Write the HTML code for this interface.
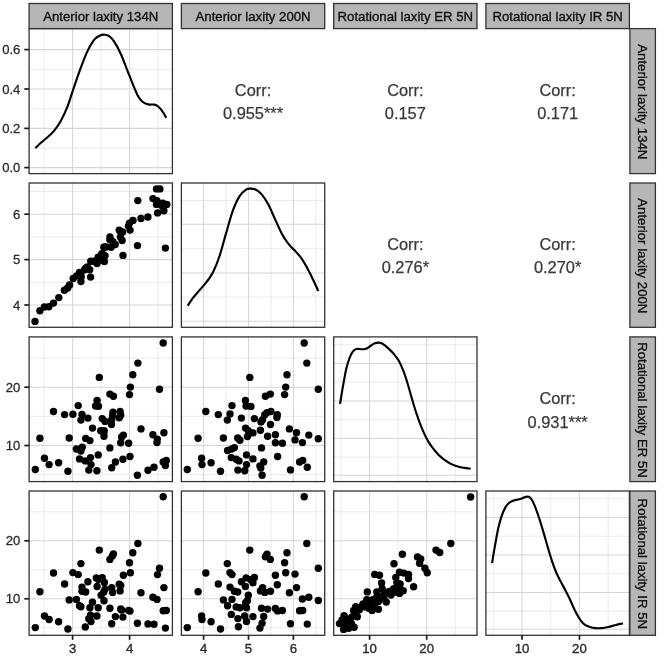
<!DOCTYPE html>
<html><head><meta charset="utf-8"><title>Pairs plot</title>
<style>
html,body{margin:0;padding:0;background:#fff;}
body{width:666px;height:663px;overflow:hidden;font-family:"Liberation Sans",sans-serif;}
svg{display:block;will-change:transform;font-family:"Liberation Sans",sans-serif;}
</style></head><body>
<svg width="666" height="663" viewBox="0 0 666 663">
<rect x="0" y="0" width="666" height="663" fill="#ffffff"/>
<clipPath id="cp00"><rect x="29.10" y="28.60" width="143.30" height="145.00"/></clipPath>
<g clip-path="url(#cp00)">
<line x1="29.10" x2="172.40" y1="69.30" y2="69.30" stroke="#e2e2e2" stroke-width="0.7"/>
<line x1="29.10" x2="172.40" y1="108.70" y2="108.70" stroke="#e2e2e2" stroke-width="0.7"/>
<line x1="29.10" x2="172.40" y1="148.00" y2="148.00" stroke="#e2e2e2" stroke-width="0.7"/>
<line x1="44.10" x2="44.10" y1="28.60" y2="173.60" stroke="#e2e2e2" stroke-width="0.7"/>
<line x1="101.10" x2="101.10" y1="28.60" y2="173.60" stroke="#e2e2e2" stroke-width="0.7"/>
<line x1="158.10" x2="158.10" y1="28.60" y2="173.60" stroke="#e2e2e2" stroke-width="0.7"/>
<line x1="29.10" x2="172.40" y1="49.60" y2="49.60" stroke="#d6d6d6" stroke-width="1.05"/>
<line x1="29.10" x2="172.40" y1="89.00" y2="89.00" stroke="#d6d6d6" stroke-width="1.05"/>
<line x1="29.10" x2="172.40" y1="128.40" y2="128.40" stroke="#d6d6d6" stroke-width="1.05"/>
<line x1="29.10" x2="172.40" y1="167.60" y2="167.60" stroke="#d6d6d6" stroke-width="1.05"/>
<line x1="72.60" x2="72.60" y1="28.60" y2="173.60" stroke="#d6d6d6" stroke-width="1.05"/>
<line x1="129.60" x2="129.60" y1="28.60" y2="173.60" stroke="#d6d6d6" stroke-width="1.05"/>
<path d="M35.27 148.24 C36.26 147.28 39.12 144.38 41.21 142.51 C43.30 140.64 45.62 139.03 47.82 137.01 C50.02 134.99 52.22 133.15 54.43 130.40 C56.63 127.65 58.83 124.53 61.03 120.49 C63.23 116.45 65.44 111.87 67.64 106.18 C69.84 100.49 72.04 92.78 74.25 86.36 C76.45 79.93 78.65 73.51 80.85 67.64 C83.05 61.77 85.26 55.75 87.46 51.12 C89.66 46.50 92.12 42.42 94.06 39.89 C96.01 37.36 97.48 36.81 99.13 35.93 C100.78 35.05 102.36 34.61 103.97 34.61 C105.59 34.61 107.17 34.83 108.82 35.93 C110.47 37.03 111.94 38.31 113.88 41.21 C115.83 44.11 118.29 48.55 120.49 53.32 C122.69 58.10 124.89 64.34 127.10 69.84 C129.30 75.35 131.87 81.95 133.70 86.36 C135.54 90.76 136.64 93.70 138.11 96.27 C139.58 98.84 140.86 100.41 142.51 101.77 C144.16 103.13 146.00 103.94 148.02 104.41 C150.04 104.89 152.79 104.16 154.62 104.64 C156.46 105.11 157.56 105.92 159.03 107.28 C160.50 108.64 162.22 111.02 163.43 112.78 C164.64 114.54 165.82 117.00 166.30 117.85" fill="none" stroke="#000" stroke-width="2.15" stroke-linejoin="round"/>
</g>
<rect x="29.10" y="28.60" width="143.30" height="145.00" fill="none" stroke="#333333" stroke-width="1.3"/>
<clipPath id="cp11"><rect x="181.40" y="183.00" width="143.30" height="144.30"/></clipPath>
<g clip-path="url(#cp11)">
<line x1="181.40" x2="324.70" y1="297.00" y2="297.00" stroke="#e2e2e2" stroke-width="0.7"/>
<line x1="181.40" x2="324.70" y1="248.70" y2="248.70" stroke="#e2e2e2" stroke-width="0.7"/>
<line x1="181.40" x2="324.70" y1="200.50" y2="200.50" stroke="#e2e2e2" stroke-width="0.7"/>
<line x1="226.05" x2="226.05" y1="183.00" y2="327.30" stroke="#e2e2e2" stroke-width="0.7"/>
<line x1="270.95" x2="270.95" y1="183.00" y2="327.30" stroke="#e2e2e2" stroke-width="0.7"/>
<line x1="315.85" x2="315.85" y1="183.00" y2="327.30" stroke="#e2e2e2" stroke-width="0.7"/>
<line x1="181.40" x2="324.70" y1="321.20" y2="321.20" stroke="#d6d6d6" stroke-width="1.05"/>
<line x1="181.40" x2="324.70" y1="273.00" y2="273.00" stroke="#d6d6d6" stroke-width="1.05"/>
<line x1="181.40" x2="324.70" y1="224.30" y2="224.30" stroke="#d6d6d6" stroke-width="1.05"/>
<line x1="203.60" x2="203.60" y1="183.00" y2="327.30" stroke="#d6d6d6" stroke-width="1.05"/>
<line x1="248.50" x2="248.50" y1="183.00" y2="327.30" stroke="#d6d6d6" stroke-width="1.05"/>
<line x1="293.40" x2="293.40" y1="183.00" y2="327.30" stroke="#d6d6d6" stroke-width="1.05"/>
<path d="M187.71 305.76 C188.63 304.40 191.19 300.26 193.21 297.61 C195.23 294.97 197.62 292.47 199.82 289.91 C202.02 287.34 204.22 285.13 206.43 282.20 C208.63 279.26 210.83 276.69 213.03 272.29 C215.23 267.88 217.44 262.38 219.64 255.77 C221.84 249.17 224.04 240.17 226.25 232.65 C228.45 225.13 230.65 216.68 232.85 210.63 C235.05 204.57 237.26 199.80 239.46 196.31 C241.66 192.83 244.23 190.99 246.06 189.71 C247.90 188.42 248.82 188.61 250.47 188.61 C252.12 188.61 254.14 188.79 255.97 189.71 C257.81 190.63 259.46 191.73 261.48 194.11 C263.50 196.50 265.88 199.98 268.09 204.02 C270.29 208.06 272.49 213.56 274.69 218.34 C276.89 223.11 279.10 228.50 281.30 232.65 C283.50 236.80 285.70 240.28 287.91 243.22 C290.11 246.16 292.31 247.81 294.51 250.27 C296.71 252.73 298.92 254.85 301.12 257.97 C303.32 261.09 305.71 265.31 307.73 268.99 C309.74 272.66 311.47 276.33 313.23 280.00 C314.99 283.67 317.45 289.17 318.30 291.01" fill="none" stroke="#000" stroke-width="2.15" stroke-linejoin="round"/>
</g>
<rect x="181.40" y="183.00" width="143.30" height="144.30" fill="none" stroke="#333333" stroke-width="1.3"/>
<clipPath id="cp22"><rect x="333.70" y="336.90" width="143.30" height="144.70"/></clipPath>
<g clip-path="url(#cp22)">
<line x1="333.70" x2="477.00" y1="457.12" y2="457.12" stroke="#e2e2e2" stroke-width="0.7"/>
<line x1="333.70" x2="477.00" y1="419.68" y2="419.68" stroke="#e2e2e2" stroke-width="0.7"/>
<line x1="333.70" x2="477.00" y1="382.25" y2="382.25" stroke="#e2e2e2" stroke-width="0.7"/>
<line x1="333.70" x2="477.00" y1="344.81" y2="344.81" stroke="#e2e2e2" stroke-width="0.7"/>
<line x1="341.05" x2="341.05" y1="336.90" y2="481.60" stroke="#e2e2e2" stroke-width="0.7"/>
<line x1="398.15" x2="398.15" y1="336.90" y2="481.60" stroke="#e2e2e2" stroke-width="0.7"/>
<line x1="455.25" x2="455.25" y1="336.90" y2="481.60" stroke="#e2e2e2" stroke-width="0.7"/>
<line x1="333.70" x2="477.00" y1="475.18" y2="475.18" stroke="#d6d6d6" stroke-width="1.05"/>
<line x1="333.70" x2="477.00" y1="438.40" y2="438.40" stroke="#d6d6d6" stroke-width="1.05"/>
<line x1="333.70" x2="477.00" y1="400.96" y2="400.96" stroke="#d6d6d6" stroke-width="1.05"/>
<line x1="333.70" x2="477.00" y1="363.53" y2="363.53" stroke="#d6d6d6" stroke-width="1.05"/>
<line x1="369.60" x2="369.60" y1="336.90" y2="481.60" stroke="#d6d6d6" stroke-width="1.05"/>
<line x1="426.70" x2="426.70" y1="336.90" y2="481.60" stroke="#d6d6d6" stroke-width="1.05"/>
<path d="M340.05 403.83 C340.52 400.96 341.88 392.45 342.91 386.65 C343.94 380.85 345.11 373.80 346.21 369.03 C347.31 364.26 348.34 361.03 349.52 358.02 C350.69 355.01 351.98 352.52 353.26 350.97 C354.54 349.43 355.83 349.07 357.22 348.77 C358.62 348.48 360.16 349.21 361.63 349.21 C363.10 349.21 364.56 349.32 366.03 348.77 C367.50 348.22 368.97 346.83 370.44 345.91 C371.90 344.99 373.45 343.82 374.84 343.27 C376.24 342.72 377.52 342.53 378.80 342.61 C380.09 342.68 381.01 342.79 382.55 343.71 C384.09 344.63 386.22 346.46 388.05 348.11 C389.89 349.76 391.72 351.42 393.56 353.62 C395.39 355.82 397.41 358.39 399.06 361.32 C400.72 364.26 402.00 367.38 403.47 371.23 C404.94 375.09 406.41 379.68 407.87 384.45 C409.34 389.22 410.81 394.91 412.28 399.86 C413.75 404.82 415.21 409.77 416.68 414.18 C418.15 418.58 419.43 422.25 421.09 426.29 C422.74 430.33 424.76 434.91 426.59 438.40 C428.43 441.89 430.08 444.46 432.10 447.21 C434.12 449.96 436.50 452.71 438.70 454.92 C440.91 457.12 443.11 458.84 445.31 460.42 C447.51 462.00 449.53 463.28 451.92 464.39 C454.30 465.49 457.24 466.40 459.62 467.03 C462.01 467.65 464.40 467.84 466.23 468.13 C468.07 468.42 469.90 468.68 470.63 468.79" fill="none" stroke="#000" stroke-width="2.15" stroke-linejoin="round"/>
</g>
<rect x="333.70" y="336.90" width="143.30" height="144.70" fill="none" stroke="#333333" stroke-width="1.3"/>
<clipPath id="cp33"><rect x="485.90" y="491.00" width="143.50" height="144.30"/></clipPath>
<g clip-path="url(#cp33)">
<line x1="485.90" x2="629.40" y1="611.12" y2="611.12" stroke="#e2e2e2" stroke-width="0.7"/>
<line x1="485.90" x2="629.40" y1="573.68" y2="573.68" stroke="#e2e2e2" stroke-width="0.7"/>
<line x1="485.90" x2="629.40" y1="536.25" y2="536.25" stroke="#e2e2e2" stroke-width="0.7"/>
<line x1="485.90" x2="629.40" y1="498.81" y2="498.81" stroke="#e2e2e2" stroke-width="0.7"/>
<line x1="493.27" x2="493.27" y1="491.00" y2="635.30" stroke="#e2e2e2" stroke-width="0.7"/>
<line x1="550.73" x2="550.73" y1="491.00" y2="635.30" stroke="#e2e2e2" stroke-width="0.7"/>
<line x1="608.17" x2="608.17" y1="491.00" y2="635.30" stroke="#e2e2e2" stroke-width="0.7"/>
<line x1="485.90" x2="629.40" y1="629.18" y2="629.18" stroke="#d6d6d6" stroke-width="1.05"/>
<line x1="485.90" x2="629.40" y1="592.40" y2="592.40" stroke="#d6d6d6" stroke-width="1.05"/>
<line x1="485.90" x2="629.40" y1="554.96" y2="554.96" stroke="#d6d6d6" stroke-width="1.05"/>
<line x1="485.90" x2="629.40" y1="517.53" y2="517.53" stroke="#d6d6d6" stroke-width="1.05"/>
<line x1="522.00" x2="522.00" y1="491.00" y2="635.30" stroke="#d6d6d6" stroke-width="1.05"/>
<line x1="579.45" x2="579.45" y1="491.00" y2="635.30" stroke="#d6d6d6" stroke-width="1.05"/>
<path d="M492.05 563.11 C492.52 560.29 493.88 551.92 494.91 546.16 C495.94 540.39 497.11 533.49 498.21 528.54 C499.31 523.58 500.34 519.91 501.52 516.43 C502.69 512.94 503.98 509.89 505.26 507.62 C506.54 505.34 507.83 503.95 509.22 502.77 C510.62 501.60 512.16 501.12 513.63 500.57 C515.10 500.02 516.56 499.87 518.03 499.47 C519.50 499.07 521.12 498.59 522.44 498.15 C523.76 497.71 524.93 497.05 525.96 496.83 C526.99 496.61 527.69 496.42 528.60 496.83 C529.52 497.23 530.47 497.82 531.47 499.25 C532.46 500.68 533.30 502.37 534.55 505.42 C535.80 508.46 537.48 513.12 538.95 517.53 C540.42 521.93 541.89 526.89 543.36 531.84 C544.83 536.80 546.29 542.30 547.76 547.26 C549.23 552.21 550.70 557.24 552.17 561.57 C553.63 565.90 555.10 569.83 556.57 573.24 C558.04 576.65 559.51 579.22 560.97 582.05 C562.44 584.88 563.91 587.37 565.38 590.20 C566.85 593.02 568.31 595.89 569.78 599.01 C571.25 602.13 572.72 605.87 574.19 608.92 C575.66 611.96 577.12 614.90 578.59 617.28 C580.06 619.67 581.34 621.69 583.00 623.23 C584.65 624.77 586.48 625.73 588.50 626.53 C590.52 627.34 592.91 627.82 595.11 628.08 C597.31 628.33 599.51 628.26 601.71 628.08 C603.92 627.89 606.12 627.45 608.32 626.97 C610.52 626.50 612.91 625.73 614.93 625.21 C616.95 624.70 619.07 624.18 620.43 623.89 C621.79 623.60 622.63 623.52 623.08 623.45" fill="none" stroke="#000" stroke-width="2.15" stroke-linejoin="round"/>
</g>
<rect x="485.90" y="491.00" width="143.50" height="144.30" fill="none" stroke="#333333" stroke-width="1.3"/>
<clipPath id="cp10"><rect x="29.10" y="183.00" width="143.30" height="144.30"/></clipPath>
<g clip-path="url(#cp10)">
<line x1="29.10" x2="172.40" y1="282.30" y2="282.30" stroke="#e2e2e2" stroke-width="0.7"/>
<line x1="29.10" x2="172.40" y1="236.90" y2="236.90" stroke="#e2e2e2" stroke-width="0.7"/>
<line x1="29.10" x2="172.40" y1="191.50" y2="191.50" stroke="#e2e2e2" stroke-width="0.7"/>
<line x1="44.10" x2="44.10" y1="183.00" y2="327.30" stroke="#e2e2e2" stroke-width="0.7"/>
<line x1="101.10" x2="101.10" y1="183.00" y2="327.30" stroke="#e2e2e2" stroke-width="0.7"/>
<line x1="158.10" x2="158.10" y1="183.00" y2="327.30" stroke="#e2e2e2" stroke-width="0.7"/>
<line x1="29.10" x2="172.40" y1="305.00" y2="305.00" stroke="#d6d6d6" stroke-width="1.05"/>
<line x1="29.10" x2="172.40" y1="259.60" y2="259.60" stroke="#d6d6d6" stroke-width="1.05"/>
<line x1="29.10" x2="172.40" y1="214.20" y2="214.20" stroke="#d6d6d6" stroke-width="1.05"/>
<line x1="72.60" x2="72.60" y1="183.00" y2="327.30" stroke="#d6d6d6" stroke-width="1.05"/>
<line x1="129.60" x2="129.60" y1="183.00" y2="327.30" stroke="#d6d6d6" stroke-width="1.05"/>
<g fill="#000"><circle cx="35.0" cy="321.4" r="3.70"/><circle cx="39.9" cy="310.7" r="3.70"/><circle cx="44.4" cy="307.0" r="3.70"/><circle cx="48.9" cy="306.8" r="3.70"/><circle cx="53.5" cy="303.1" r="3.70"/><circle cx="58.8" cy="297.6" r="3.70"/><circle cx="64.4" cy="290.3" r="3.70"/><circle cx="67.6" cy="288.0" r="3.70"/><circle cx="69.6" cy="285.0" r="3.70"/><circle cx="73.2" cy="278.5" r="3.70"/><circle cx="76.6" cy="275.9" r="3.70"/><circle cx="79.5" cy="272.5" r="3.70"/><circle cx="81.2" cy="277.1" r="3.70"/><circle cx="80.9" cy="281.6" r="3.70"/><circle cx="84.6" cy="269.7" r="3.70"/><circle cx="87.4" cy="266.9" r="3.70"/><circle cx="89.7" cy="269.7" r="3.70"/><circle cx="90.6" cy="277.1" r="3.70"/><circle cx="90.8" cy="261.2" r="3.70"/><circle cx="97.0" cy="263.5" r="3.70"/><circle cx="98.1" cy="257.3" r="3.70"/><circle cx="101.5" cy="260.1" r="3.70"/><circle cx="156.5" cy="188.9" r="3.70"/><circle cx="159.9" cy="188.9" r="3.70"/><circle cx="137.8" cy="200.6" r="3.70"/><circle cx="153.0" cy="198.6" r="3.70"/><circle cx="156.5" cy="204.4" r="3.70"/><circle cx="162.8" cy="203.2" r="3.70"/><circle cx="166.8" cy="204.4" r="3.70"/><circle cx="157.6" cy="212.9" r="3.70"/><circle cx="163.9" cy="210.7" r="3.70"/><circle cx="147.9" cy="217.0" r="3.70"/><circle cx="141.0" cy="218.5" r="3.70"/><circle cx="133.0" cy="220.4" r="3.70"/><circle cx="129.5" cy="223.3" r="3.70"/><circle cx="128.4" cy="226.1" r="3.70"/><circle cx="130.1" cy="230.1" r="3.70"/><circle cx="119.2" cy="230.1" r="3.70"/><circle cx="122.6" cy="231.9" r="3.70"/><circle cx="120.4" cy="237.0" r="3.70"/><circle cx="122.1" cy="240.5" r="3.70"/><circle cx="110.0" cy="237.0" r="3.70"/><circle cx="112.9" cy="241.6" r="3.70"/><circle cx="115.2" cy="244.5" r="3.70"/><circle cx="111.2" cy="247.3" r="3.70"/><circle cx="104.3" cy="247.3" r="3.70"/><circle cx="102.6" cy="254.2" r="3.70"/><circle cx="137.5" cy="245.6" r="3.70"/><circle cx="165.4" cy="248.1" r="3.70"/><circle cx="123.0" cy="255.4" r="3.70"/><circle cx="104.4" cy="261.6" r="3.70"/><circle cx="101.8" cy="253.7" r="3.70"/><circle cx="105.0" cy="255.8" r="3.70"/><circle cx="103.9" cy="247.3" r="3.70"/><circle cx="106.2" cy="247.0" r="3.70"/><circle cx="109.9" cy="239.7" r="3.70"/><circle cx="85.7" cy="268.3" r="3.70"/><circle cx="94.1" cy="261.3" r="3.70"/><circle cx="80.9" cy="273.4" r="3.70"/><circle cx="120.5" cy="231.5" r="3.70"/><circle cx="157.0" cy="200.7" r="3.70"/><circle cx="162.3" cy="206.2" r="3.70"/></g>
</g>
<rect x="29.10" y="183.00" width="143.30" height="144.30" fill="none" stroke="#333333" stroke-width="1.3"/>
<clipPath id="cp20"><rect x="29.10" y="336.90" width="143.30" height="144.70"/></clipPath>
<g clip-path="url(#cp20)">
<line x1="29.10" x2="172.40" y1="474.65" y2="474.65" stroke="#e2e2e2" stroke-width="0.7"/>
<line x1="29.10" x2="172.40" y1="416.35" y2="416.35" stroke="#e2e2e2" stroke-width="0.7"/>
<line x1="29.10" x2="172.40" y1="358.05" y2="358.05" stroke="#e2e2e2" stroke-width="0.7"/>
<line x1="44.10" x2="44.10" y1="336.90" y2="481.60" stroke="#e2e2e2" stroke-width="0.7"/>
<line x1="101.10" x2="101.10" y1="336.90" y2="481.60" stroke="#e2e2e2" stroke-width="0.7"/>
<line x1="158.10" x2="158.10" y1="336.90" y2="481.60" stroke="#e2e2e2" stroke-width="0.7"/>
<line x1="29.10" x2="172.40" y1="445.50" y2="445.50" stroke="#d6d6d6" stroke-width="1.05"/>
<line x1="29.10" x2="172.40" y1="387.20" y2="387.20" stroke="#d6d6d6" stroke-width="1.05"/>
<line x1="72.60" x2="72.60" y1="336.90" y2="481.60" stroke="#d6d6d6" stroke-width="1.05"/>
<line x1="129.60" x2="129.60" y1="336.90" y2="481.60" stroke="#d6d6d6" stroke-width="1.05"/>
<g fill="#000"><circle cx="163.2" cy="343.0" r="3.70"/><circle cx="137.9" cy="363.1" r="3.70"/><circle cx="132.8" cy="374.8" r="3.70"/><circle cx="99.3" cy="377.4" r="3.70"/><circle cx="130.4" cy="387.1" r="3.70"/><circle cx="159.5" cy="389.3" r="3.70"/><circle cx="129.5" cy="394.6" r="3.70"/><circle cx="109.9" cy="394.1" r="3.70"/><circle cx="113.4" cy="396.3" r="3.70"/><circle cx="97.1" cy="400.5" r="3.70"/><circle cx="78.2" cy="405.6" r="3.70"/><circle cx="95.6" cy="406.0" r="3.70"/><circle cx="98.5" cy="406.2" r="3.70"/><circle cx="53.5" cy="411.5" r="3.70"/><circle cx="64.6" cy="414.6" r="3.70"/><circle cx="72.9" cy="414.2" r="3.70"/><circle cx="82.0" cy="414.4" r="3.70"/><circle cx="113.0" cy="412.2" r="3.70"/><circle cx="120.1" cy="411.5" r="3.70"/><circle cx="120.7" cy="415.3" r="3.70"/><circle cx="119.2" cy="417.7" r="3.70"/><circle cx="112.6" cy="415.7" r="3.70"/><circle cx="87.9" cy="418.1" r="3.70"/><circle cx="80.9" cy="420.1" r="3.70"/><circle cx="102.2" cy="418.6" r="3.70"/><circle cx="105.1" cy="421.4" r="3.70"/><circle cx="111.7" cy="419.7" r="3.70"/><circle cx="111.5" cy="424.5" r="3.70"/><circle cx="92.5" cy="428.1" r="3.70"/><circle cx="100.7" cy="430.7" r="3.70"/><circle cx="104.2" cy="430.7" r="3.70"/><circle cx="103.8" cy="432.9" r="3.70"/><circle cx="104.0" cy="436.2" r="3.70"/><circle cx="141.0" cy="428.9" r="3.70"/><circle cx="163.9" cy="432.7" r="3.70"/><circle cx="152.9" cy="434.7" r="3.70"/><circle cx="123.4" cy="435.1" r="3.70"/><circle cx="121.6" cy="436.9" r="3.70"/><circle cx="39.9" cy="438.2" r="3.70"/><circle cx="69.2" cy="438.0" r="3.70"/><circle cx="85.7" cy="438.4" r="3.70"/><circle cx="89.9" cy="440.6" r="3.70"/><circle cx="157.3" cy="439.1" r="3.70"/><circle cx="157.0" cy="442.6" r="3.70"/><circle cx="120.7" cy="442.8" r="3.70"/><circle cx="128.6" cy="443.2" r="3.70"/><circle cx="109.9" cy="447.9" r="3.70"/><circle cx="82.2" cy="447.2" r="3.70"/><circle cx="76.4" cy="449.0" r="3.70"/><circle cx="80.9" cy="451.0" r="3.70"/><circle cx="98.2" cy="454.9" r="3.70"/><circle cx="130.0" cy="456.5" r="3.70"/><circle cx="44.5" cy="458.2" r="3.70"/><circle cx="90.5" cy="457.6" r="3.70"/><circle cx="79.5" cy="458.9" r="3.70"/><circle cx="85.3" cy="460.9" r="3.70"/><circle cx="122.9" cy="459.3" r="3.70"/><circle cx="115.4" cy="462.0" r="3.70"/><circle cx="166.3" cy="460.4" r="3.70"/><circle cx="163.2" cy="462.0" r="3.70"/><circle cx="165.4" cy="465.5" r="3.70"/><circle cx="58.6" cy="462.8" r="3.70"/><circle cx="49.1" cy="464.6" r="3.70"/><circle cx="91.0" cy="464.6" r="3.70"/><circle cx="111.7" cy="467.7" r="3.70"/><circle cx="154.0" cy="467.2" r="3.70"/><circle cx="35.3" cy="469.5" r="3.70"/><circle cx="148.0" cy="470.3" r="3.70"/><circle cx="67.9" cy="471.2" r="3.70"/><circle cx="88.8" cy="470.1" r="3.70"/><circle cx="96.9" cy="470.8" r="3.70"/><circle cx="137.4" cy="475.2" r="3.70"/></g>
</g>
<rect x="29.10" y="336.90" width="143.30" height="144.70" fill="none" stroke="#333333" stroke-width="1.3"/>
<clipPath id="cp21"><rect x="181.40" y="336.90" width="143.30" height="144.70"/></clipPath>
<g clip-path="url(#cp21)">
<line x1="181.40" x2="324.70" y1="474.65" y2="474.65" stroke="#e2e2e2" stroke-width="0.7"/>
<line x1="181.40" x2="324.70" y1="416.35" y2="416.35" stroke="#e2e2e2" stroke-width="0.7"/>
<line x1="181.40" x2="324.70" y1="358.05" y2="358.05" stroke="#e2e2e2" stroke-width="0.7"/>
<line x1="226.05" x2="226.05" y1="336.90" y2="481.60" stroke="#e2e2e2" stroke-width="0.7"/>
<line x1="270.95" x2="270.95" y1="336.90" y2="481.60" stroke="#e2e2e2" stroke-width="0.7"/>
<line x1="315.85" x2="315.85" y1="336.90" y2="481.60" stroke="#e2e2e2" stroke-width="0.7"/>
<line x1="181.40" x2="324.70" y1="445.50" y2="445.50" stroke="#d6d6d6" stroke-width="1.05"/>
<line x1="181.40" x2="324.70" y1="387.20" y2="387.20" stroke="#d6d6d6" stroke-width="1.05"/>
<line x1="203.60" x2="203.60" y1="336.90" y2="481.60" stroke="#d6d6d6" stroke-width="1.05"/>
<line x1="248.50" x2="248.50" y1="336.90" y2="481.60" stroke="#d6d6d6" stroke-width="1.05"/>
<line x1="293.40" x2="293.40" y1="336.90" y2="481.60" stroke="#d6d6d6" stroke-width="1.05"/>
<g fill="#000"><circle cx="304.2" cy="343.0" r="3.70"/><circle cx="306.8" cy="363.1" r="3.70"/><circle cx="287.0" cy="374.8" r="3.70"/><circle cx="249.8" cy="377.4" r="3.70"/><circle cx="285.7" cy="387.1" r="3.70"/><circle cx="318.3" cy="389.3" r="3.70"/><circle cx="284.6" cy="394.6" r="3.70"/><circle cx="270.3" cy="394.1" r="3.70"/><circle cx="265.4" cy="396.3" r="3.70"/><circle cx="245.4" cy="400.5" r="3.70"/><circle cx="232.0" cy="405.6" r="3.70"/><circle cx="246.1" cy="406.0" r="3.70"/><circle cx="250.9" cy="406.5" r="3.70"/><circle cx="205.8" cy="411.5" r="3.70"/><circle cx="270.9" cy="411.5" r="3.70"/><circle cx="267.0" cy="412.6" r="3.70"/><circle cx="218.3" cy="414.6" r="3.70"/><circle cx="230.0" cy="414.0" r="3.70"/><circle cx="264.8" cy="414.8" r="3.70"/><circle cx="277.3" cy="414.8" r="3.70"/><circle cx="276.9" cy="417.5" r="3.70"/><circle cx="241.4" cy="418.1" r="3.70"/><circle cx="254.4" cy="418.6" r="3.70"/><circle cx="227.3" cy="420.1" r="3.70"/><circle cx="262.6" cy="419.7" r="3.70"/><circle cx="261.0" cy="421.9" r="3.70"/><circle cx="270.5" cy="424.5" r="3.70"/><circle cx="245.6" cy="428.1" r="3.70"/><circle cx="289.4" cy="428.9" r="3.70"/><circle cx="260.4" cy="430.3" r="3.70"/><circle cx="248.3" cy="430.7" r="3.70"/><circle cx="252.9" cy="432.9" r="3.70"/><circle cx="296.5" cy="432.7" r="3.70"/><circle cx="308.8" cy="435.1" r="3.70"/><circle cx="275.4" cy="434.7" r="3.70"/><circle cx="267.6" cy="436.2" r="3.70"/><circle cx="247.4" cy="436.6" r="3.70"/><circle cx="198.1" cy="438.2" r="3.70"/><circle cx="223.4" cy="438.0" r="3.70"/><circle cx="237.7" cy="438.0" r="3.70"/><circle cx="239.9" cy="440.2" r="3.70"/><circle cx="318.3" cy="438.8" r="3.70"/><circle cx="295.0" cy="439.9" r="3.70"/><circle cx="275.4" cy="442.8" r="3.70"/><circle cx="282.4" cy="443.2" r="3.70"/><circle cx="302.4" cy="442.6" r="3.70"/><circle cx="261.5" cy="447.9" r="3.70"/><circle cx="234.4" cy="447.6" r="3.70"/><circle cx="231.8" cy="449.0" r="3.70"/><circle cx="227.6" cy="450.5" r="3.70"/><circle cx="246.5" cy="454.9" r="3.70"/><circle cx="277.6" cy="456.5" r="3.70"/><circle cx="201.6" cy="458.2" r="3.70"/><circle cx="231.3" cy="457.6" r="3.70"/><circle cx="252.9" cy="458.9" r="3.70"/><circle cx="236.2" cy="459.3" r="3.70"/><circle cx="239.0" cy="460.9" r="3.70"/><circle cx="302.7" cy="460.4" r="3.70"/><circle cx="299.6" cy="462.0" r="3.70"/><circle cx="263.7" cy="462.0" r="3.70"/><circle cx="211.1" cy="462.8" r="3.70"/><circle cx="202.0" cy="464.6" r="3.70"/><circle cx="246.5" cy="464.6" r="3.70"/><circle cx="259.9" cy="465.9" r="3.70"/><circle cx="307.3" cy="467.2" r="3.70"/><circle cx="260.8" cy="468.1" r="3.70"/><circle cx="187.3" cy="469.5" r="3.70"/><circle cx="290.5" cy="469.9" r="3.70"/><circle cx="220.5" cy="471.2" r="3.70"/><circle cx="237.9" cy="470.1" r="3.70"/><circle cx="244.7" cy="470.8" r="3.70"/><circle cx="262.1" cy="475.2" r="3.70"/></g>
</g>
<rect x="181.40" y="336.90" width="143.30" height="144.70" fill="none" stroke="#333333" stroke-width="1.3"/>
<clipPath id="cp30"><rect x="29.10" y="491.00" width="143.30" height="144.30"/></clipPath>
<g clip-path="url(#cp30)">
<line x1="29.10" x2="172.40" y1="627.80" y2="627.80" stroke="#e2e2e2" stroke-width="0.7"/>
<line x1="29.10" x2="172.40" y1="569.80" y2="569.80" stroke="#e2e2e2" stroke-width="0.7"/>
<line x1="29.10" x2="172.40" y1="511.80" y2="511.80" stroke="#e2e2e2" stroke-width="0.7"/>
<line x1="44.10" x2="44.10" y1="491.00" y2="635.30" stroke="#e2e2e2" stroke-width="0.7"/>
<line x1="101.10" x2="101.10" y1="491.00" y2="635.30" stroke="#e2e2e2" stroke-width="0.7"/>
<line x1="158.10" x2="158.10" y1="491.00" y2="635.30" stroke="#e2e2e2" stroke-width="0.7"/>
<line x1="29.10" x2="172.40" y1="598.80" y2="598.80" stroke="#d6d6d6" stroke-width="1.05"/>
<line x1="29.10" x2="172.40" y1="540.80" y2="540.80" stroke="#d6d6d6" stroke-width="1.05"/>
<line x1="72.60" x2="72.60" y1="491.00" y2="635.30" stroke="#d6d6d6" stroke-width="1.05"/>
<line x1="129.60" x2="129.60" y1="491.00" y2="635.30" stroke="#d6d6d6" stroke-width="1.05"/>
<g fill="#000"><circle cx="163.2" cy="496.8" r="3.70"/><circle cx="137.9" cy="543.5" r="3.70"/><circle cx="99.3" cy="550.1" r="3.70"/><circle cx="132.8" cy="552.8" r="3.70"/><circle cx="113.4" cy="553.9" r="3.70"/><circle cx="112.3" cy="556.1" r="3.70"/><circle cx="109.9" cy="559.4" r="3.70"/><circle cx="129.5" cy="562.7" r="3.70"/><circle cx="80.9" cy="563.6" r="3.70"/><circle cx="159.5" cy="568.2" r="3.70"/><circle cx="53.5" cy="573.0" r="3.70"/><circle cx="72.9" cy="572.6" r="3.70"/><circle cx="78.2" cy="574.6" r="3.70"/><circle cx="130.4" cy="572.8" r="3.70"/><circle cx="157.5" cy="574.6" r="3.70"/><circle cx="123.4" cy="575.2" r="3.70"/><circle cx="96.3" cy="577.9" r="3.70"/><circle cx="102.2" cy="577.6" r="3.70"/><circle cx="98.5" cy="579.6" r="3.70"/><circle cx="87.9" cy="581.8" r="3.70"/><circle cx="104.4" cy="582.5" r="3.70"/><circle cx="64.6" cy="584.0" r="3.70"/><circle cx="119.2" cy="584.3" r="3.70"/><circle cx="120.7" cy="585.4" r="3.70"/><circle cx="97.1" cy="586.5" r="3.70"/><circle cx="82.0" cy="587.1" r="3.70"/><circle cx="111.7" cy="587.6" r="3.70"/><circle cx="163.9" cy="587.6" r="3.70"/><circle cx="105.1" cy="589.1" r="3.70"/><circle cx="120.1" cy="590.9" r="3.70"/><circle cx="39.9" cy="591.7" r="3.70"/><circle cx="82.0" cy="591.3" r="3.70"/><circle cx="85.7" cy="592.0" r="3.70"/><circle cx="103.8" cy="592.0" r="3.70"/><circle cx="112.6" cy="592.4" r="3.70"/><circle cx="141.0" cy="592.8" r="3.70"/><circle cx="101.1" cy="595.3" r="3.70"/><circle cx="152.9" cy="597.2" r="3.70"/><circle cx="157.0" cy="599.4" r="3.70"/><circle cx="69.2" cy="599.9" r="3.70"/><circle cx="76.4" cy="599.4" r="3.70"/><circle cx="104.0" cy="600.8" r="3.70"/><circle cx="92.5" cy="602.3" r="3.70"/><circle cx="79.5" cy="605.8" r="3.70"/><circle cx="80.9" cy="606.7" r="3.70"/><circle cx="89.9" cy="607.8" r="3.70"/><circle cx="98.2" cy="607.8" r="3.70"/><circle cx="109.9" cy="608.3" r="3.70"/><circle cx="120.7" cy="608.9" r="3.70"/><circle cx="121.6" cy="610.0" r="3.70"/><circle cx="128.6" cy="610.5" r="3.70"/><circle cx="130.0" cy="611.1" r="3.70"/><circle cx="163.2" cy="610.7" r="3.70"/><circle cx="166.3" cy="610.5" r="3.70"/><circle cx="44.5" cy="616.0" r="3.70"/><circle cx="90.5" cy="615.1" r="3.70"/><circle cx="96.9" cy="616.0" r="3.70"/><circle cx="115.4" cy="616.6" r="3.70"/><circle cx="122.9" cy="617.1" r="3.70"/><circle cx="49.1" cy="619.5" r="3.70"/><circle cx="88.8" cy="618.8" r="3.70"/><circle cx="91.0" cy="621.5" r="3.70"/><circle cx="58.6" cy="621.7" r="3.70"/><circle cx="111.7" cy="623.7" r="3.70"/><circle cx="137.4" cy="623.2" r="3.70"/><circle cx="148.0" cy="623.9" r="3.70"/><circle cx="154.0" cy="624.3" r="3.70"/><circle cx="35.3" cy="627.6" r="3.70"/><circle cx="85.3" cy="627.0" r="3.70"/><circle cx="67.9" cy="629.0" r="3.70"/><circle cx="165.4" cy="628.1" r="3.70"/></g>
</g>
<rect x="29.10" y="491.00" width="143.30" height="144.30" fill="none" stroke="#333333" stroke-width="1.3"/>
<clipPath id="cp31"><rect x="181.40" y="491.00" width="143.30" height="144.30"/></clipPath>
<g clip-path="url(#cp31)">
<line x1="181.40" x2="324.70" y1="627.80" y2="627.80" stroke="#e2e2e2" stroke-width="0.7"/>
<line x1="181.40" x2="324.70" y1="569.80" y2="569.80" stroke="#e2e2e2" stroke-width="0.7"/>
<line x1="181.40" x2="324.70" y1="511.80" y2="511.80" stroke="#e2e2e2" stroke-width="0.7"/>
<line x1="226.05" x2="226.05" y1="491.00" y2="635.30" stroke="#e2e2e2" stroke-width="0.7"/>
<line x1="270.95" x2="270.95" y1="491.00" y2="635.30" stroke="#e2e2e2" stroke-width="0.7"/>
<line x1="315.85" x2="315.85" y1="491.00" y2="635.30" stroke="#e2e2e2" stroke-width="0.7"/>
<line x1="181.40" x2="324.70" y1="598.80" y2="598.80" stroke="#d6d6d6" stroke-width="1.05"/>
<line x1="181.40" x2="324.70" y1="540.80" y2="540.80" stroke="#d6d6d6" stroke-width="1.05"/>
<line x1="203.60" x2="203.60" y1="491.00" y2="635.30" stroke="#d6d6d6" stroke-width="1.05"/>
<line x1="248.50" x2="248.50" y1="491.00" y2="635.30" stroke="#d6d6d6" stroke-width="1.05"/>
<line x1="293.40" x2="293.40" y1="491.00" y2="635.30" stroke="#d6d6d6" stroke-width="1.05"/>
<g fill="#000"><circle cx="304.2" cy="496.8" r="3.70"/><circle cx="306.8" cy="543.5" r="3.70"/><circle cx="249.8" cy="550.1" r="3.70"/><circle cx="287.0" cy="552.8" r="3.70"/><circle cx="267.0" cy="554.3" r="3.70"/><circle cx="265.4" cy="556.7" r="3.70"/><circle cx="270.3" cy="559.4" r="3.70"/><circle cx="284.6" cy="562.7" r="3.70"/><circle cx="227.3" cy="563.6" r="3.70"/><circle cx="318.3" cy="568.2" r="3.70"/><circle cx="205.8" cy="573.0" r="3.70"/><circle cx="230.0" cy="572.6" r="3.70"/><circle cx="232.0" cy="574.6" r="3.70"/><circle cx="285.7" cy="572.8" r="3.70"/><circle cx="295.0" cy="574.1" r="3.70"/><circle cx="275.4" cy="575.2" r="3.70"/><circle cx="246.1" cy="577.9" r="3.70"/><circle cx="254.4" cy="577.4" r="3.70"/><circle cx="250.9" cy="579.8" r="3.70"/><circle cx="241.4" cy="581.8" r="3.70"/><circle cx="252.9" cy="582.7" r="3.70"/><circle cx="218.3" cy="584.0" r="3.70"/><circle cx="277.3" cy="584.7" r="3.70"/><circle cx="245.4" cy="586.5" r="3.70"/><circle cx="230.0" cy="587.1" r="3.70"/><circle cx="296.5" cy="587.6" r="3.70"/><circle cx="262.6" cy="587.6" r="3.70"/><circle cx="260.4" cy="590.9" r="3.70"/><circle cx="198.1" cy="591.7" r="3.70"/><circle cx="234.4" cy="591.3" r="3.70"/><circle cx="237.7" cy="592.0" r="3.70"/><circle cx="264.8" cy="592.4" r="3.70"/><circle cx="270.5" cy="591.3" r="3.70"/><circle cx="289.4" cy="592.8" r="3.70"/><circle cx="248.3" cy="595.3" r="3.70"/><circle cx="308.8" cy="597.2" r="3.70"/><circle cx="302.4" cy="599.0" r="3.70"/><circle cx="223.4" cy="599.9" r="3.70"/><circle cx="232.0" cy="599.4" r="3.70"/><circle cx="247.4" cy="600.8" r="3.70"/><circle cx="318.3" cy="600.5" r="3.70"/><circle cx="245.6" cy="602.8" r="3.70"/><circle cx="227.6" cy="605.8" r="3.70"/><circle cx="236.2" cy="606.9" r="3.70"/><circle cx="239.9" cy="607.8" r="3.70"/><circle cx="246.5" cy="607.8" r="3.70"/><circle cx="261.5" cy="608.3" r="3.70"/><circle cx="267.6" cy="609.1" r="3.70"/><circle cx="275.4" cy="608.5" r="3.70"/><circle cx="277.6" cy="610.9" r="3.70"/><circle cx="282.4" cy="610.5" r="3.70"/><circle cx="299.6" cy="610.7" r="3.70"/><circle cx="302.7" cy="610.5" r="3.70"/><circle cx="231.3" cy="614.4" r="3.70"/><circle cx="201.6" cy="616.0" r="3.70"/><circle cx="244.7" cy="616.0" r="3.70"/><circle cx="252.9" cy="616.6" r="3.70"/><circle cx="263.7" cy="616.4" r="3.70"/><circle cx="202.0" cy="619.5" r="3.70"/><circle cx="237.9" cy="618.6" r="3.70"/><circle cx="211.1" cy="621.7" r="3.70"/><circle cx="246.5" cy="621.5" r="3.70"/><circle cx="262.1" cy="623.2" r="3.70"/><circle cx="290.5" cy="623.7" r="3.70"/><circle cx="307.3" cy="624.1" r="3.70"/><circle cx="187.3" cy="627.6" r="3.70"/><circle cx="238.4" cy="626.8" r="3.70"/><circle cx="220.5" cy="629.0" r="3.70"/><circle cx="259.9" cy="628.1" r="3.70"/></g>
</g>
<rect x="181.40" y="491.00" width="143.30" height="144.30" fill="none" stroke="#333333" stroke-width="1.3"/>
<clipPath id="cp32"><rect x="333.70" y="491.00" width="143.30" height="144.30"/></clipPath>
<g clip-path="url(#cp32)">
<line x1="333.70" x2="477.00" y1="627.80" y2="627.80" stroke="#e2e2e2" stroke-width="0.7"/>
<line x1="333.70" x2="477.00" y1="569.80" y2="569.80" stroke="#e2e2e2" stroke-width="0.7"/>
<line x1="333.70" x2="477.00" y1="511.80" y2="511.80" stroke="#e2e2e2" stroke-width="0.7"/>
<line x1="341.05" x2="341.05" y1="491.00" y2="635.30" stroke="#e2e2e2" stroke-width="0.7"/>
<line x1="398.15" x2="398.15" y1="491.00" y2="635.30" stroke="#e2e2e2" stroke-width="0.7"/>
<line x1="455.25" x2="455.25" y1="491.00" y2="635.30" stroke="#e2e2e2" stroke-width="0.7"/>
<line x1="333.70" x2="477.00" y1="598.80" y2="598.80" stroke="#d6d6d6" stroke-width="1.05"/>
<line x1="333.70" x2="477.00" y1="540.80" y2="540.80" stroke="#d6d6d6" stroke-width="1.05"/>
<line x1="369.60" x2="369.60" y1="491.00" y2="635.30" stroke="#d6d6d6" stroke-width="1.05"/>
<line x1="426.70" x2="426.70" y1="491.00" y2="635.30" stroke="#d6d6d6" stroke-width="1.05"/>
<g fill="#000"><circle cx="339.5" cy="623.6" r="3.70"/><circle cx="343.6" cy="629.4" r="3.70"/><circle cx="344.1" cy="615.6" r="3.70"/><circle cx="346.7" cy="623.0" r="3.70"/><circle cx="348.8" cy="628.3" r="3.70"/><circle cx="351.5" cy="623.6" r="3.70"/><circle cx="354.1" cy="627.2" r="3.70"/><circle cx="349.9" cy="619.9" r="3.70"/><circle cx="353.6" cy="610.4" r="3.70"/><circle cx="355.7" cy="606.7" r="3.70"/><circle cx="357.3" cy="616.7" r="3.70"/><circle cx="355.7" cy="613.5" r="3.70"/><circle cx="359.4" cy="609.8" r="3.70"/><circle cx="361.5" cy="606.7" r="3.70"/><circle cx="364.7" cy="606.7" r="3.70"/><circle cx="366.8" cy="599.8" r="3.70"/><circle cx="367.3" cy="591.9" r="3.70"/><circle cx="368.9" cy="608.2" r="3.70"/><circle cx="372.1" cy="610.4" r="3.70"/><circle cx="374.2" cy="606.7" r="3.70"/><circle cx="378.4" cy="609.3" r="3.70"/><circle cx="372.6" cy="599.8" r="3.70"/><circle cx="378.4" cy="601.4" r="3.70"/><circle cx="374.7" cy="574.4" r="3.70"/><circle cx="379.5" cy="575.3" r="3.70"/><circle cx="381.6" cy="582.9" r="3.70"/><circle cx="376.8" cy="591.9" r="3.70"/><circle cx="382.1" cy="588.7" r="3.70"/><circle cx="380.5" cy="596.6" r="3.70"/><circle cx="384.2" cy="594.5" r="3.70"/><circle cx="386.3" cy="602.1" r="3.70"/><circle cx="387.9" cy="591.9" r="3.70"/><circle cx="402.4" cy="554.3" r="3.70"/><circle cx="394.0" cy="563.8" r="3.70"/><circle cx="417.5" cy="556.9" r="3.70"/><circle cx="420.7" cy="559.0" r="3.70"/><circle cx="419.6" cy="563.3" r="3.70"/><circle cx="424.9" cy="568.2" r="3.70"/><circle cx="427.2" cy="572.8" r="3.70"/><circle cx="436.0" cy="550.1" r="3.70"/><circle cx="439.7" cy="552.5" r="3.70"/><circle cx="450.8" cy="543.5" r="3.70"/><circle cx="413.6" cy="586.7" r="3.70"/><circle cx="399.5" cy="572.2" r="3.70"/><circle cx="403.8" cy="573.1" r="3.70"/><circle cx="408.5" cy="574.4" r="3.70"/><circle cx="408.5" cy="578.6" r="3.70"/><circle cx="395.8" cy="577.5" r="3.70"/><circle cx="396.9" cy="582.8" r="3.70"/><circle cx="400.1" cy="583.9" r="3.70"/><circle cx="399.5" cy="589.1" r="3.70"/><circle cx="403.2" cy="590.7" r="3.70"/><circle cx="399.5" cy="593.4" r="3.70"/><circle cx="393.7" cy="588.6" r="3.70"/><circle cx="390.6" cy="591.2" r="3.70"/><circle cx="470.6" cy="497.0" r="3.70"/><circle cx="342.0" cy="620.0" r="3.70"/><circle cx="346.0" cy="626.0" r="3.70"/><circle cx="352.0" cy="617.0" r="3.70"/><circle cx="347.0" cy="619.0" r="3.70"/><circle cx="363.0" cy="604.0" r="3.70"/><circle cx="370.0" cy="604.0" r="3.70"/><circle cx="376.0" cy="598.0" r="3.70"/><circle cx="384.0" cy="599.0" r="3.70"/><circle cx="391.0" cy="595.0" r="3.70"/><circle cx="395.0" cy="592.0" r="3.70"/></g>
</g>
<rect x="333.70" y="491.00" width="143.30" height="144.30" fill="none" stroke="#333333" stroke-width="1.3"/>
<rect x="29.10" y="3.50" width="143.30" height="25.10" fill="#b6b6b6" stroke="#333333" stroke-width="1.3"/>
<text x="100.75" y="20.50" text-anchor="middle" font-size="13.2" fill="#111111" stroke="#111111" stroke-width="0.35">Anterior laxity 134N</text>
<rect x="181.40" y="3.50" width="143.30" height="25.10" fill="#b6b6b6" stroke="#333333" stroke-width="1.3"/>
<text x="253.05" y="20.50" text-anchor="middle" font-size="13.2" fill="#111111" stroke="#111111" stroke-width="0.35">Anterior laxity 200N</text>
<rect x="333.70" y="3.50" width="143.30" height="25.10" fill="#b6b6b6" stroke="#333333" stroke-width="1.3"/>
<text x="405.35" y="20.50" text-anchor="middle" font-size="13.2" fill="#111111" stroke="#111111" stroke-width="0.35">Rotational laxity ER 5N</text>
<rect x="485.90" y="3.50" width="143.50" height="25.10" fill="#b6b6b6" stroke="#333333" stroke-width="1.3"/>
<text x="557.65" y="20.50" text-anchor="middle" font-size="13.2" fill="#111111" stroke="#111111" stroke-width="0.35">Rotational laxity IR 5N</text>
<rect x="629.90" y="28.60" width="25.50" height="145.00" fill="#b6b6b6" stroke="#333333" stroke-width="1.3"/>
<text transform="translate(638.00 101.80) rotate(90)" text-anchor="middle" font-size="13.2" fill="#111111" stroke="#111111" stroke-width="0.35">Anterior laxity 134N</text>
<rect x="629.90" y="183.00" width="25.50" height="144.30" fill="#b6b6b6" stroke="#333333" stroke-width="1.3"/>
<text transform="translate(638.00 255.85) rotate(90)" text-anchor="middle" font-size="13.2" fill="#111111" stroke="#111111" stroke-width="0.35">Anterior laxity 200N</text>
<rect x="629.90" y="336.90" width="25.50" height="144.70" fill="#b6b6b6" stroke="#333333" stroke-width="1.3"/>
<text transform="translate(638.00 409.95) rotate(90)" text-anchor="middle" font-size="13.2" fill="#111111" stroke="#111111" stroke-width="0.35">Rotational laxity ER 5N</text>
<rect x="629.90" y="491.00" width="25.50" height="144.30" fill="#b6b6b6" stroke="#333333" stroke-width="1.3"/>
<text transform="translate(638.00 563.85) rotate(90)" text-anchor="middle" font-size="13.2" fill="#111111" stroke="#111111" stroke-width="0.35">Rotational laxity IR 5N</text>
<text x="253.05" y="95.80" text-anchor="middle" font-size="16.4" fill="#3a3a3a" stroke="#3a3a3a" stroke-width="0.25">Corr:</text>
<text x="253.05" y="119.40" text-anchor="middle" font-size="16.4" fill="#3a3a3a" stroke="#3a3a3a" stroke-width="0.25">0.955***</text>
<text x="405.35" y="95.80" text-anchor="middle" font-size="16.4" fill="#3a3a3a" stroke="#3a3a3a" stroke-width="0.25">Corr:</text>
<text x="405.35" y="119.40" text-anchor="middle" font-size="16.4" fill="#3a3a3a" stroke="#3a3a3a" stroke-width="0.25">0.157</text>
<text x="557.65" y="95.80" text-anchor="middle" font-size="16.4" fill="#3a3a3a" stroke="#3a3a3a" stroke-width="0.25">Corr:</text>
<text x="557.65" y="119.40" text-anchor="middle" font-size="16.4" fill="#3a3a3a" stroke="#3a3a3a" stroke-width="0.25">0.171</text>
<text x="405.35" y="249.85" text-anchor="middle" font-size="16.4" fill="#3a3a3a" stroke="#3a3a3a" stroke-width="0.25">Corr:</text>
<text x="405.35" y="273.45" text-anchor="middle" font-size="16.4" fill="#3a3a3a" stroke="#3a3a3a" stroke-width="0.25">0.276*</text>
<text x="557.65" y="249.85" text-anchor="middle" font-size="16.4" fill="#3a3a3a" stroke="#3a3a3a" stroke-width="0.25">Corr:</text>
<text x="557.65" y="273.45" text-anchor="middle" font-size="16.4" fill="#3a3a3a" stroke="#3a3a3a" stroke-width="0.25">0.270*</text>
<text x="557.65" y="403.95" text-anchor="middle" font-size="16.4" fill="#3a3a3a" stroke="#3a3a3a" stroke-width="0.25">Corr:</text>
<text x="557.65" y="427.55" text-anchor="middle" font-size="16.4" fill="#3a3a3a" stroke="#3a3a3a" stroke-width="0.25">0.931***</text>
<line x1="24.3" x2="29.10" y1="49.60" y2="49.60" stroke="#1a1a1a" stroke-width="1.7"/>
<text x="20.4" y="54.25" text-anchor="end" font-size="13.1" fill="#2a2a2a" stroke="#2a2a2a" stroke-width="0.28">0.6</text>
<line x1="24.3" x2="29.10" y1="89.00" y2="89.00" stroke="#1a1a1a" stroke-width="1.7"/>
<text x="20.4" y="93.65" text-anchor="end" font-size="13.1" fill="#2a2a2a" stroke="#2a2a2a" stroke-width="0.28">0.4</text>
<line x1="24.3" x2="29.10" y1="128.40" y2="128.40" stroke="#1a1a1a" stroke-width="1.7"/>
<text x="20.4" y="133.05" text-anchor="end" font-size="13.1" fill="#2a2a2a" stroke="#2a2a2a" stroke-width="0.28">0.2</text>
<line x1="24.3" x2="29.10" y1="167.60" y2="167.60" stroke="#1a1a1a" stroke-width="1.7"/>
<text x="20.4" y="172.25" text-anchor="end" font-size="13.1" fill="#2a2a2a" stroke="#2a2a2a" stroke-width="0.28">0.0</text>
<line x1="24.3" x2="29.10" y1="305.00" y2="305.00" stroke="#1a1a1a" stroke-width="1.7"/>
<text x="20.4" y="309.65" text-anchor="end" font-size="13.1" fill="#2a2a2a" stroke="#2a2a2a" stroke-width="0.28">4</text>
<line x1="24.3" x2="29.10" y1="259.60" y2="259.60" stroke="#1a1a1a" stroke-width="1.7"/>
<text x="20.4" y="264.25" text-anchor="end" font-size="13.1" fill="#2a2a2a" stroke="#2a2a2a" stroke-width="0.28">5</text>
<line x1="24.3" x2="29.10" y1="214.20" y2="214.20" stroke="#1a1a1a" stroke-width="1.7"/>
<text x="20.4" y="218.85" text-anchor="end" font-size="13.1" fill="#2a2a2a" stroke="#2a2a2a" stroke-width="0.28">6</text>
<line x1="24.3" x2="29.10" y1="445.50" y2="445.50" stroke="#1a1a1a" stroke-width="1.7"/>
<text x="20.4" y="450.15" text-anchor="end" font-size="13.1" fill="#2a2a2a" stroke="#2a2a2a" stroke-width="0.28">10</text>
<line x1="24.3" x2="29.10" y1="387.20" y2="387.20" stroke="#1a1a1a" stroke-width="1.7"/>
<text x="20.4" y="391.85" text-anchor="end" font-size="13.1" fill="#2a2a2a" stroke="#2a2a2a" stroke-width="0.28">20</text>
<line x1="24.3" x2="29.10" y1="598.80" y2="598.80" stroke="#1a1a1a" stroke-width="1.7"/>
<text x="20.4" y="603.45" text-anchor="end" font-size="13.1" fill="#2a2a2a" stroke="#2a2a2a" stroke-width="0.28">10</text>
<line x1="24.3" x2="29.10" y1="540.80" y2="540.80" stroke="#1a1a1a" stroke-width="1.7"/>
<text x="20.4" y="545.45" text-anchor="end" font-size="13.1" fill="#2a2a2a" stroke="#2a2a2a" stroke-width="0.28">20</text>
<line x1="72.60" x2="72.60" y1="635.30" y2="639.80" stroke="#1a1a1a" stroke-width="1.7"/>
<text x="72.60" y="652.90" text-anchor="middle" font-size="13.2" fill="#2a2a2a" stroke="#2a2a2a" stroke-width="0.35">3</text>
<line x1="129.60" x2="129.60" y1="635.30" y2="639.80" stroke="#1a1a1a" stroke-width="1.7"/>
<text x="129.60" y="652.90" text-anchor="middle" font-size="13.2" fill="#2a2a2a" stroke="#2a2a2a" stroke-width="0.35">4</text>
<line x1="203.60" x2="203.60" y1="635.30" y2="639.80" stroke="#1a1a1a" stroke-width="1.7"/>
<text x="203.60" y="652.90" text-anchor="middle" font-size="13.2" fill="#2a2a2a" stroke="#2a2a2a" stroke-width="0.35">4</text>
<line x1="248.50" x2="248.50" y1="635.30" y2="639.80" stroke="#1a1a1a" stroke-width="1.7"/>
<text x="248.50" y="652.90" text-anchor="middle" font-size="13.2" fill="#2a2a2a" stroke="#2a2a2a" stroke-width="0.35">5</text>
<line x1="293.40" x2="293.40" y1="635.30" y2="639.80" stroke="#1a1a1a" stroke-width="1.7"/>
<text x="293.40" y="652.90" text-anchor="middle" font-size="13.2" fill="#2a2a2a" stroke="#2a2a2a" stroke-width="0.35">6</text>
<line x1="369.60" x2="369.60" y1="635.30" y2="639.80" stroke="#1a1a1a" stroke-width="1.7"/>
<text x="369.60" y="652.90" text-anchor="middle" font-size="13.2" fill="#2a2a2a" stroke="#2a2a2a" stroke-width="0.35">10</text>
<line x1="426.70" x2="426.70" y1="635.30" y2="639.80" stroke="#1a1a1a" stroke-width="1.7"/>
<text x="426.70" y="652.90" text-anchor="middle" font-size="13.2" fill="#2a2a2a" stroke="#2a2a2a" stroke-width="0.35">20</text>
<line x1="522.00" x2="522.00" y1="635.30" y2="639.80" stroke="#1a1a1a" stroke-width="1.7"/>
<text x="522.00" y="652.90" text-anchor="middle" font-size="13.2" fill="#2a2a2a" stroke="#2a2a2a" stroke-width="0.35">10</text>
<line x1="579.45" x2="579.45" y1="635.30" y2="639.80" stroke="#1a1a1a" stroke-width="1.7"/>
<text x="579.45" y="652.90" text-anchor="middle" font-size="13.2" fill="#2a2a2a" stroke="#2a2a2a" stroke-width="0.35">20</text>
</svg>
</body></html>
